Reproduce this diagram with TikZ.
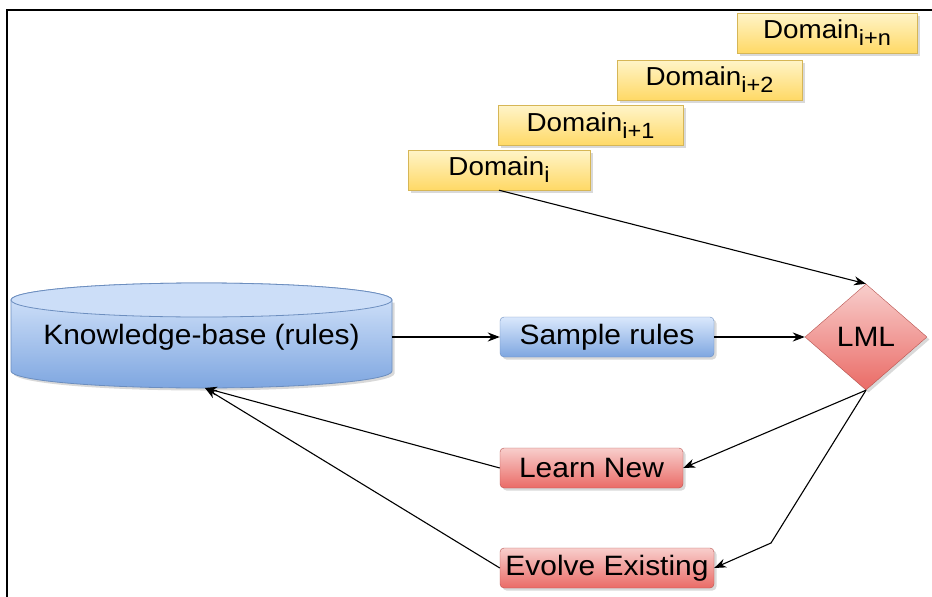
\documentclass[tikz,border=0pt]{standalone}
\usepackage{fontspec}
\setmainfont{Liberation Sans}[FakeStretch=1.07]
\usetikzlibrary{shapes.geometric,arrows.meta,shadows}
\definecolor{yelT}{HTML}{FFF4C8}
\definecolor{yelB}{HTML}{FFD966}
\definecolor{yelD}{HTML}{D6B656}
\definecolor{bluT}{HTML}{DAE8FC}
\definecolor{bluB}{HTML}{7EA6E0}
\definecolor{bluD}{HTML}{6C8EBF}
\definecolor{redT}{HTML}{F8CECC}
\definecolor{redB}{HTML}{EA6B66}
\definecolor{redD}{HTML}{B85450}
\begin{document}
\begin{tikzpicture}[x=1pt,y=-1pt,
  shad/.style={drop shadow={shadow xshift=2.5pt,shadow yshift=-2.5pt,opacity=0.25,fill=black!60}},
  dombox/.style={draw=yelD,top color=yelT,bottom color=yelB,minimum height=40pt,inner sep=0pt,
    font=\fontsize{26}{30}\selectfont,shad},
  bluebox/.style={draw=bluD,top color=bluT,bottom color=bluB,rounded corners=4pt,minimum height=40pt,inner sep=0pt,
    font=\fontsize{28}{32}\selectfont,shad},
  redbox/.style={draw=redD,top color=redT,bottom color=redB,rounded corners=4pt,minimum height=40pt,inner sep=0pt,
    font=\fontsize{28}{32}\selectfont,shad},
  conn/.style={-{Stealth[length=12pt,width=9pt]},line width=1.1pt,black}
]
\useasboundingbox (0,0) rectangle (932,597);
\newcommand{\dsub}[1]{\raisebox{-7pt}{\fontsize{22}{24}\selectfont #1}}
% frame
\draw[line width=2.5pt] (7,597) -- (7,10) -- (932,10);

% domains
\node[dombox,minimum width=182pt] (d0) at (499,170) {Domain\dsub{i}};
\node[dombox,minimum width=185pt] (d1) at (590.5,125.5) {Domain\dsub{i+1}};
\node[dombox,minimum width=185pt] (d2) at (709.5,80) {Domain\dsub{i+2}};
\node[dombox,minimum width=180pt] (dn) at (827,33) {Domain\dsub{i+n}};

% knowledge base cylinder
\fill[black!60,opacity=0.25] (13.5,302.5) -- (13.5,373.5) arc[start angle=180,end angle=360,x radius=190.5pt,y radius=17pt] -- (394.5,302.5) -- cycle;
\shade[top color=bluT,bottom color=bluB,draw=bluD,line width=0.8pt]
  (11,300) -- (11,371) arc[start angle=180,end angle=360,x radius=190.5pt,y radius=17pt]
  -- (392,300) arc[start angle=0,end angle=180,x radius=190.5pt,y radius=17pt] -- cycle;
\filldraw[fill=bluT!85!bluB,draw=bluD,line width=0.8pt] (201.5,300) ellipse[x radius=190.5pt,y radius=17pt];
\node[font=\fontsize{28}{32}\selectfont,inner sep=0pt] (kb) at (201.5,337) {Knowledge-base (rules)};
\coordinate (kbr) at (392,337);
\coordinate (kbb) at (205,388);

% sample rules
\node[bluebox,minimum width=214pt] (sr) at (607,337) {Sample rules};

% LML
\node[diamond,draw=redD,top color=redT,bottom color=redB,minimum width=122pt,minimum height=106pt,
  aspect=1.15,inner sep=0pt,font=\fontsize{28}{32}\selectfont,shad] (lml) at (866,337) {LML};

% learn / evolve
\node[redbox,minimum width=183pt] (ln) at (591.5,468) {Learn New};
\node[redbox,minimum width=214pt] (ee) at (607,568) {Evolve Existing};
\coordinate (bend) at (771,543);

% connectors
\draw[conn] (d0.south) -- (lml.north);
\draw[conn] (kbr) -- (sr.west);
\draw[conn] (sr.east) -- (lml.west);
\draw[conn] (lml.south) -- (ln.east);
\draw[conn] (lml.south) -- (bend) -- (ee.east);
\draw[conn] (ln.west) -- (kbb);
\draw[conn] (ee.west) -- (kbb);
\end{tikzpicture}
\end{document}
